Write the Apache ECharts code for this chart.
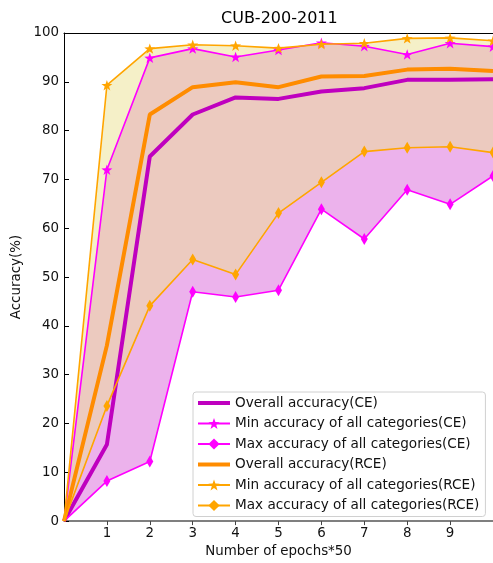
<!DOCTYPE html>
<html>
<head>
<meta charset="utf-8">
<script src="https://cdn.jsdelivr.net/npm/echarts@6/dist/echarts.min.js"></script>
<style>
  html,body{margin:0;padding:0;background:#fff;}
  #main{width:493px;height:563px;}
</style>
</head>
<body>
<div id="main"></div>
<script>
// data (x = epochs/50)
let epochs=[0,1,2,3,4,5,6,7,8,9,10];
let ceOverall=[0,15.7,74.7,83.3,86.8,86.5,88.0,88.7,90.4,90.4,90.5];
let ceMin=[0,72.0,94.9,96.8,95.1,96.5,98.0,97.3,95.6,97.9,97.2];
let ceMax=[0,8.2,12.2,47.0,45.9,47.3,63.9,57.8,67.9,64.9,70.7];
let rceOverall=[0,36.0,83.3,88.9,89.9,88.9,91.1,91.2,92.5,92.7,92.2];
let rceMin=[0,89.3,96.8,97.6,97.4,96.9,97.7,97.9,98.9,99.0,98.4];
let rceMax=[0,23.6,44.1,53.6,50.5,63.1,69.4,75.7,76.5,76.7,75.5];
let xTicks=[1,2,3,4,5,6,7,8,9];

const FONT='DejaVu Sans';
const STAR='path://M0,-10 L2.35,-3.24 L9.51,-3.09 L3.8,1.24 L5.88,8.09 L0,4 L-5.88,8.09 L-3.8,1.24 L-9.51,-3.09 L-2.35,-3.24 Z';
const THICK='path://M0,0 H32 V4 H0 Z';

// points, first one drawn without marker
function pts(arr){
  return epochs.map(function(x,i){
    if(i===0) return {value:[x,arr[i]],symbol:'none'};
    return [x,arr[i]];
  });
}

// filled band between two lines, drawn through the axes
function bandSeries(hi,lo,color){
  return {
    type:'custom',silent:true,z:1,
    data:[0],
    renderItem:function(params,api){
      let points=[];
      for(let i=0;i<epochs.length;i++) points.push(api.coord([epochs[i],hi[i]]));
      for(let i=epochs.length-1;i>=0;i--) points.push(api.coord([epochs[i],lo[i]]));
      return {type:'polygon',shape:{points:points},style:{fill:color}};
    }
  };
}

function lineSeries(name,arr,color,width,symbol,size){
  return {
    name:name,type:'line',data:pts(arr),
    symbol:symbol,symbolSize:size,symbolKeepAspect:true,
    itemStyle:{color:color},
    lineStyle:{color:color,width:width},
    emphasis:{disabled:true},z:3
  };
}

function setOption(){
  let series=[
    bandSeries(ceMin,ceMax,'rgba(191,0,191,0.3)'),
    bandSeries(rceMin,rceMax,'rgba(235,225,145,0.5)'),
    lineSeries('Overall accuracy(CE)',ceOverall,'#BF00BF',4,'none',0),
    lineSeries('Min accuracy of all categories(CE)',ceMin,'#FF00FF',1.6,STAR,11),
    lineSeries('Max accuracy of all categories(CE)',ceMax,'#FF00FF',1.6,'diamond',[7,12]),
    lineSeries('Overall accuracy(RCE)',rceOverall,'#FF8C00',4,'none',0),
    lineSeries('Min accuracy of all categories(RCE)',rceMin,'#FFA500',1.6,STAR,11),
    lineSeries('Max accuracy of all categories(RCE)',rceMax,'#FFA500',1.6,'diamond',[7,12])
  ];
  let option={
    animation:false,
    title:{
      text:'CUB-200-2011',left:221,top:11,padding:0,
      textStyle:{fontFamily:FONT,fontSize:16,fontWeight:'normal',color:'#000'}
    },
    grid:{left:64,right:0,top:33,bottom:39},
    legend:{
      orient:'vertical',left:193,top:392,
      padding:[4,6,4,4],itemGap:6.5,itemWidth:32,itemHeight:14,
      backgroundColor:'#fff',borderColor:'#d0d0d0',borderWidth:1,borderRadius:3,
      textStyle:{fontFamily:FONT,fontSize:13.6,color:'#111'},
      data:[
        {name:'Overall accuracy(CE)',icon:THICK},
        'Min accuracy of all categories(CE)',
        'Max accuracy of all categories(CE)',
        {name:'Overall accuracy(RCE)',icon:THICK},
        'Min accuracy of all categories(RCE)',
        'Max accuracy of all categories(RCE)'
      ]
    },
    xAxis:[
      {
        type:'value',min:0,max:10,position:'bottom',
        name:'Number of epochs*50',nameLocation:'middle',nameGap:22,
        nameTextStyle:{fontFamily:FONT,fontSize:13.4,color:'#111'},
        axisLine:{show:true,lineStyle:{color:'#555',width:1.5}},
        axisTick:{show:true,length:4,customValues:xTicks,lineStyle:{color:'#444'}},
        axisLabel:{customValues:xTicks,margin:6,fontFamily:FONT,fontSize:13.4,color:'#111'},
        splitLine:{show:false}
      },
      {
        type:'value',min:0,max:10,position:'top',
        axisLine:{show:true,lineStyle:{color:'#000',width:1}},
        axisTick:{show:false},axisLabel:{show:false},splitLine:{show:false}
      }
    ],
    yAxis:{
      type:'value',min:0,max:100,interval:10,
      name:'Accuracy(%)',nameLocation:'middle',nameGap:36,nameRotate:90,
      nameTextStyle:{fontFamily:FONT,fontSize:13.4,color:'#111'},
      axisLine:{show:true,lineStyle:{color:'#000',width:1}},
      axisTick:{show:true,inside:true,length:5,lineStyle:{color:'#000'}},
      axisLabel:{margin:5,fontFamily:FONT,fontSize:13.4,color:'#111'},
      splitLine:{show:false}
    },
    series:series
  };
  return option;
}

let chart=echarts.init(document.getElementById('main'),null,{renderer:'canvas'});
chart.setOption(setOption());
</script>
</body>
</html>
